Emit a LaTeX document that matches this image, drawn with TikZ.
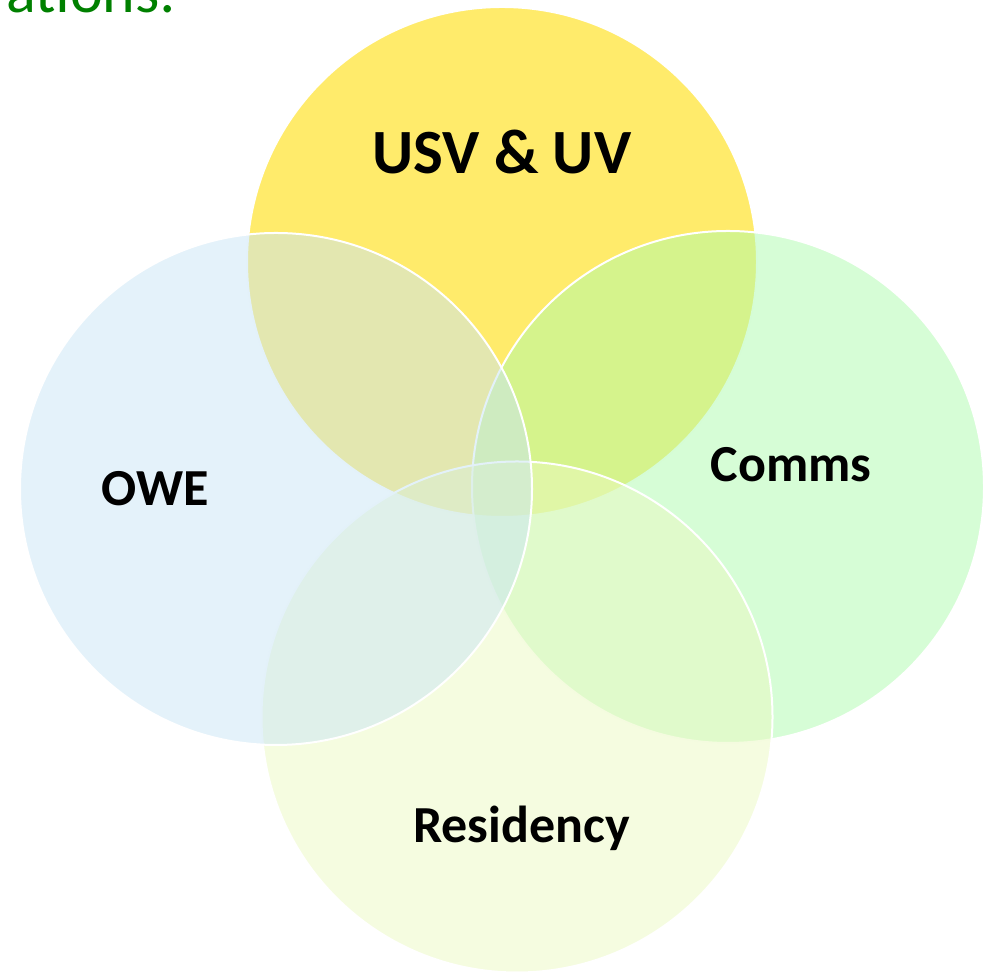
\documentclass[tikz,border=0pt]{standalone}
\usepackage{fontspec}
\setmainfont{Carlito}
\definecolor{usvyellow}{RGB}{255,235,107}
\definecolor{owebase}{RGB}{201,229,245}
\definecolor{commsbase}{RGB}{173,251,173}
\definecolor{resbase}{RGB}{235,249,193}
\definecolor{titlegreen}{RGB}{0,128,0}
\begin{document}
\begin{tikzpicture}[x=1pt, y=1pt,
        circ/.style={circle, draw=white, line width=2pt, minimum size=512pt, inner sep=0pt},
        lbl/.style={anchor=base, font=\bfseries\fontsize{52}{52}\selectfont},
        ]
        \useasboundingbox (0,0) rectangle (984,973);
        \clip (0,0) rectangle (984,973);

        \node (usv) at (502,711) [circ, fill=usvyellow, minimum size=510pt] {};
        \node (comms) at (728,486) [circ, fill=commsbase, fill opacity=0.5] {};
        \node (res) at (517,256) [circ, fill=resbase, fill opacity=0.5, minimum size=511pt] {};
        \node (owe) at (276,484) [circ, fill=owebase, fill opacity=0.5] {};

        \node (usvlbl) at (502,799) [lbl, font=\bfseries\fontsize{63}{63}\selectfont] {USV \& UV};
        \node (owelbl) at (155.5,467) [lbl] {OWE};
        \node (commslbl) at (791,491) [lbl] {Comms};
        \node (reslbl) at (521.5,130) [lbl] {Residency};

        \node (title) at (3,960) [anchor=base west, text=titlegreen, font=\fontsize{62}{62}\selectfont] {ations:};
    \end{tikzpicture}
\end{document}
